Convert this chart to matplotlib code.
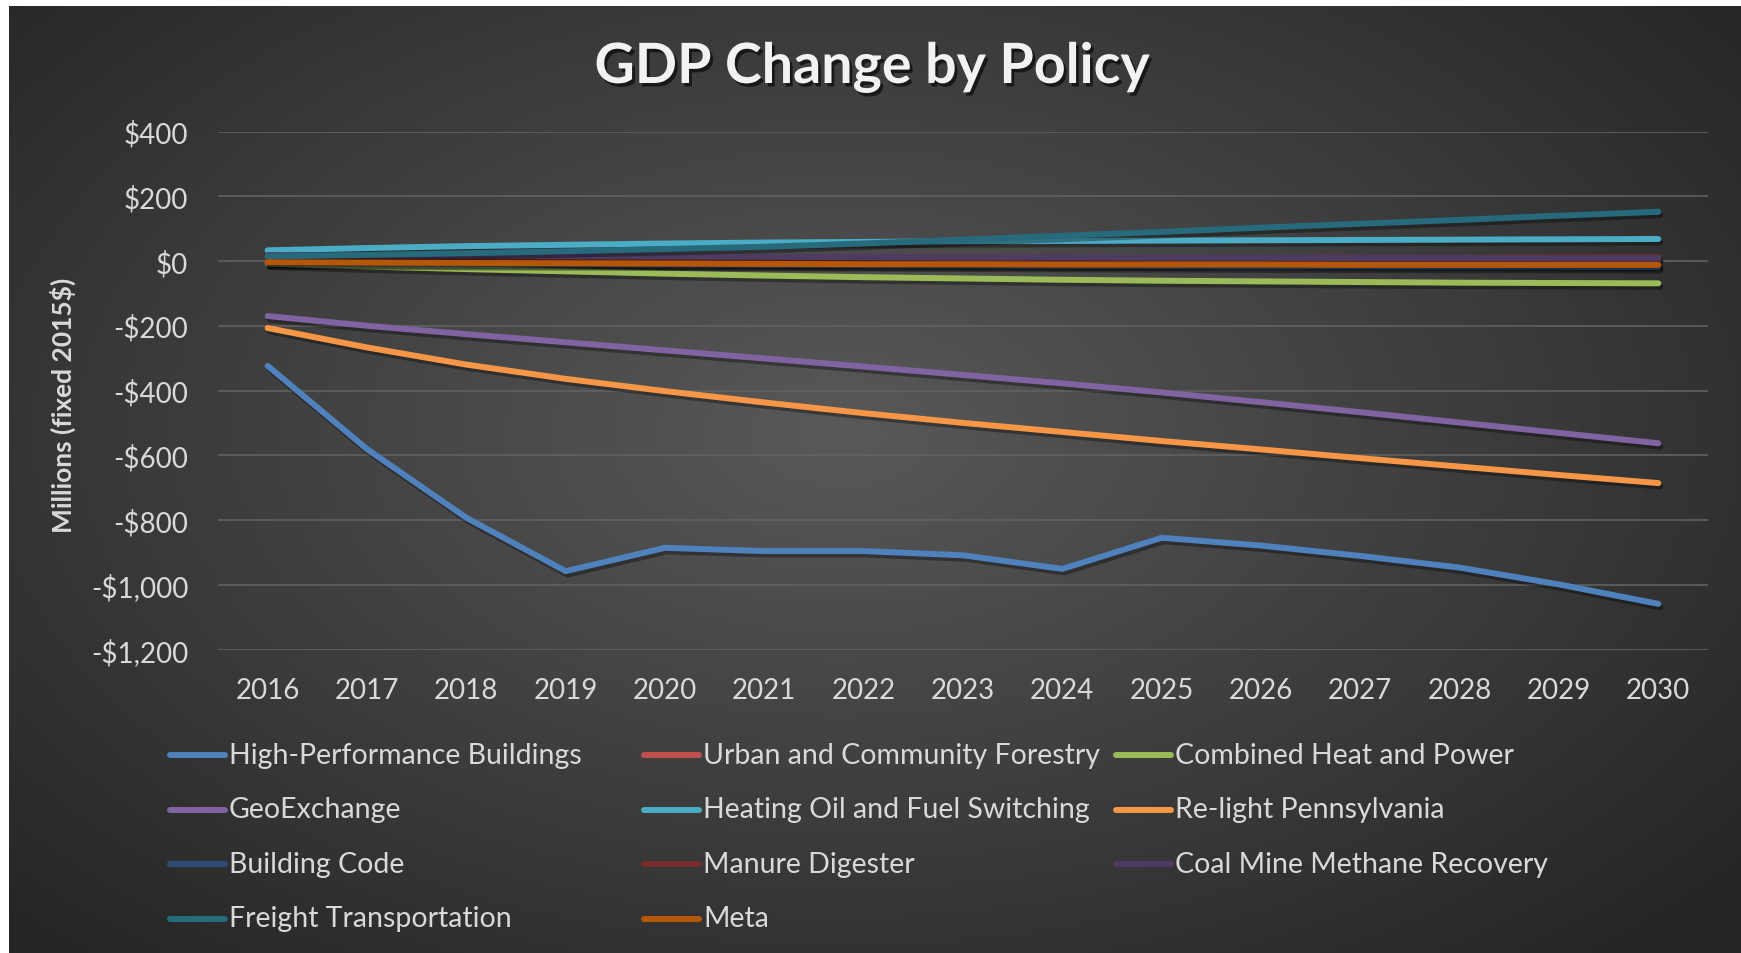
import numpy as np
import matplotlib.pyplot as plt
import matplotlib.patheffects as pe
from matplotlib.lines import Line2D

plt.rcParams['font.family'] = ['Lato', 'DejaVu Sans']

years = np.arange(2016, 2031)

# GDP change per policy, millions of fixed 2015 dollars
high_performance_buildings = [-324, -581, -793, -958, -886, -896, -896, -909, -951, -855, -879, -911, -947, -999, -1059]
urban_community_forestry = [-2, -3, -4, -5, -5, -6, -6, -7, -7, -8, -8, -8, -9, -9, -9]
combined_heat_power = [-8, -17, -25, -32, -39, -45, -50, -54, -58, -61, -63, -65, -67, -68, -69]
geoexchange = [-170, -200, -226, -251, -276, -301, -326, -352, -378, -406, -436, -467, -499, -531, -563]
heating_oil_fuel_switching = [33, 40, 46, 50, 54, 57, 59, 61, 62, 63, 64, 65, 66, 67, 68]
relight_pennsylvania = [-207, -267, -320, -364, -402, -437, -470, -500, -528, -556, -582, -609, -635, -661, -686]
building_code = [-7, -8, -9, -10, -11, -12, -13, -14, -15, -16, -17, -17, -18, -18, -19]
manure_digester = [4, 5, 5, 6, 6, 7, 7, 8, 8, 9, 9, 10, 10, 11, 11]
coal_mine_methane = [18, 17, 16, 15, 14, 13, 12, 11, 11, 10, 10, 9, 9, 8, 8]
freight_transportation = [14, 19, 24, 30, 37, 44, 54, 66, 78, 90, 103, 115, 127, 140, 152]
meta = [-4, -5, -6, -7, -8, -9, -10, -10, -11, -11, -11, -12, -12, -12, -12]

series = [
    ('High-Performance Buildings', high_performance_buildings, '#4f81bd'),
    ('Urban and Community Forestry', urban_community_forestry, '#c0504d'),
    ('Combined Heat and Power', combined_heat_power, '#9bbb59'),
    ('GeoExchange', geoexchange, '#8064a2'),
    ('Heating Oil and Fuel Switching', heating_oil_fuel_switching, '#4bacc6'),
    ('Re-light Pennsylvania', relight_pennsylvania, '#f79646'),
    ('Building Code', building_code, '#2c4d75'),
    ('Manure Digester', manure_digester, '#772c2a'),
    ('Coal Mine Methane Recovery', coal_mine_methane, '#4d3b62'),
    ('Freight Transportation', freight_transportation, '#276a7c'),
    ('Meta', meta, '#b65708'),
]

W, H = 1741, 954
fig = plt.figure(figsize=(W / 100, H / 100), dpi=100, facecolor='white')

# dark panel with a soft radial gradient
bg = fig.add_axes([9 / W, 0, 1 - 9 / W, 1 - 7 / H])
gx, gy = np.meshgrid(np.linspace(0, 1, 700), np.linspace(0, 1, 400))
d = np.sqrt(((gx - 0.48) / 0.5) ** 2 + ((gy - 0.45) / 0.55) ** 2)
t = np.clip(d / 1.35, 0, 1)
shade = (0x59 + (0x25 - 0x59) * t) / 255
bg.imshow(np.dstack([shade, shade, shade]), aspect='auto', origin='upper')
bg.axis('off')

ax = fig.add_axes([218 / W, 1 - 650.5 / H, (1708 - 218) / W, (650.5 - 132.5) / H])
ax.set_facecolor('none')
ax.set_xlim(2015.5, 2030.5)
ax.set_ylim(-1200, 400)
ax.set_xticks(years)
ax.set_yticks(np.arange(-1200, 401, 200))
ax.set_yticklabels([('-$' if v < 0 else '$') + f'{abs(v):,}' for v in range(-1200, 401, 200)])
ax.tick_params(axis='both', length=0, labelsize=20, colors='#d9d9d9')
ax.tick_params(axis='y', pad=21.5)
ax.tick_params(axis='x', pad=20)
for s in ax.spines.values():
    s.set_visible(False)
ax.yaxis.grid(True, color='#616161', lw=1.2)
ax.set_axisbelow(True)

shadow = [pe.SimpleLineShadow(offset=(1.5, -2.5), shadow_color='black', alpha=0.35), pe.Normal()]
for name, vals, color in series:
    ax.plot(years, vals, color=color, lw=4.3, solid_capstyle='round',
            solid_joinstyle='round', path_effects=shadow, label=name)

ax.set_ylabel('Millions (fixed 2015$)', fontsize=19, fontweight='bold', color='#d9d9d9')
ax.yaxis.set_label_coords((76 - 218) / (1708 - 218), 0.474)

fig.text(872 / W, 1 - 84 / H, 'GDP Change by Policy', ha='center', va='baseline',
         fontsize=40, fontweight='bold', color='#f2f2f2',
         path_effects=[pe.withSimplePatchShadow(offset=(2, -2.5), shadow_rgbFace='black', alpha=0.6)])

# legend laid out row by row in three columns
col_x = [170, 644, 1116]
for i, (name, vals, color) in enumerate(series):
    r, c = divmod(i, 3)
    y = 1 - (756 + r * 54.5) / H
    x0 = col_x[c]
    fig.add_artist(Line2D([x0 / W, (x0 + 55) / W], [y, y], transform=fig.transFigure,
                          color=color, lw=4.3, solid_capstyle='round'))
    fig.text((x0 + 59) / W, y, name, ha='left', va='center', fontsize=20.5, color='#d9d9d9')

fig.savefig('out.png', dpi=100, facecolor='white')
